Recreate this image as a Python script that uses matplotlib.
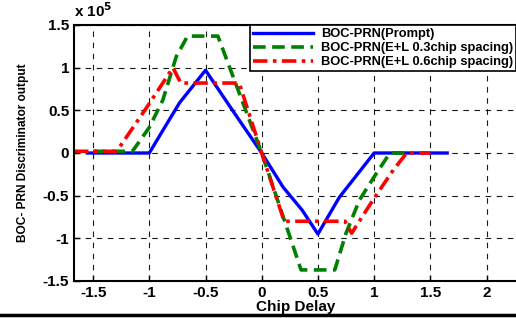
import matplotlib
matplotlib.use("Agg")
import matplotlib.pyplot as plt
from matplotlib.lines import Line2D

plt.rcParams['font.family'] = ['Liberation Sans', 'DejaVu Sans']
plt.rcParams['font.weight'] = 'bold'

# chip delay / discriminator output (x 1e5)
prompt_x = [-1.55, -1.0, -0.9, -0.73, -0.5, -0.26, 0.0, 0.19, 0.36, 0.5, 0.69, 1.0, 1.65]
prompt_y = [0.0, 0.0, 0.22, 0.59, 0.97, 0.5, 0.0, -0.4, -0.67, -0.95, -0.52, 0.0, 0.0]

el03_x = [-1.5, -1.15, -1.0, -0.88, -0.76, -0.66, -0.39, 0.0, 0.35, 0.65, 0.75, 0.87, 1.0, 1.14, 1.3]
el03_y = [0.02, 0.02, 0.3, 0.62, 1.13, 1.37, 1.37, 0.0, -1.37, -1.37, -0.94, -0.55, -0.28, 0.0, 0.0]

el06_x = [-1.67, -1.29, -1.02, -0.79, -0.72, -0.2, 0.0, 0.2, 0.74, 0.8, 1.0, 1.17, 1.29, 1.5]
el06_y = [0.02, 0.02, 0.54, 1.0, 0.82, 0.82, 0.0, -0.8, -0.8, -0.94, -0.53, -0.2, 0.0, 0.0]

labels = ['BOC-PRN(Prompt)', 'BOC-PRN(E+L 0.3chip spacing)', 'BOC-PRN(E+L 0.6chip spacing)']
xticks = [-1.5, -1, -0.5, 0, 0.5, 1, 1.5, 2]
yticks = [-1.5, -1, -0.5, 0, 0.5, 1, 1.5]

fig = plt.figure(figsize=(5.16, 3.18), dpi=100)
ax = fig.add_axes([74/516, 1-281/318, (518-74)/516, 256/318])

ax.plot(prompt_x, prompt_y, color='#0000ff', lw=2.4, label=labels[0])
ax.plot(el03_x, el03_y, color='#008000', lw=2.6, linestyle=(0, (3.5, 1.8)), label=labels[1])
ax.plot(el06_x, el06_y, color='#ff0000', lw=2.6, linestyle=(0, (4, 1.5, 1, 1.5)), label=labels[2])

ax.set_xlim(-1.67, 2.28)
ax.set_ylim(-1.5, 1.5)
ax.set_xticks(xticks)
ax.set_xticklabels(['-1.5', '-1', '-0.5', '0', '0.5', '1', '1.5', '2'])
ax.set_yticks(yticks)
ax.set_yticklabels(['-1.5', '-1', '-0.5', '0', '0.5', '1', '1.5'])
ax.tick_params(direction='in', length=4, labelsize=11, width=1)
for lab in ax.get_xticklabels() + ax.get_yticklabels():
    lab.set_fontweight('bold')
ax.grid(True, color='k', linestyle=(0, (5, 5)), linewidth=0.8, alpha=0.9)
for s in ax.spines.values():
    s.set_linewidth(1.5)

ax.set_xlabel('Chip Delay', fontsize=11, fontweight='bold', labelpad=0)
ax.set_ylabel('BOC- PRN Discriminator output', fontsize=8.6, fontweight='bold', labelpad=10)
ax.text(0.0, 1.02, r'x 10$^{\mathbf{5}}$', transform=ax.transAxes, fontsize=11,
        fontweight='bold', ha='left', va='bottom')

leg = ax.legend(loc='upper right', bbox_to_anchor=(516/516, 1-25/318),
                bbox_transform=fig.transFigure, fontsize=9.3, handlelength=4.6,
                borderaxespad=0, fancybox=False, framealpha=1, edgecolor='k',
                borderpad=0.25, labelspacing=0.15, handletextpad=0.6)
leg.get_frame().set_linewidth(1.2)
for t in leg.get_texts():
    t.set_fontweight('bold')

fig.add_artist(Line2D([0, 1], [1-315/318, 1-315/318], transform=fig.transFigure,
                      color='k', lw=2.5))

fig.savefig('out.png', dpi=100)
